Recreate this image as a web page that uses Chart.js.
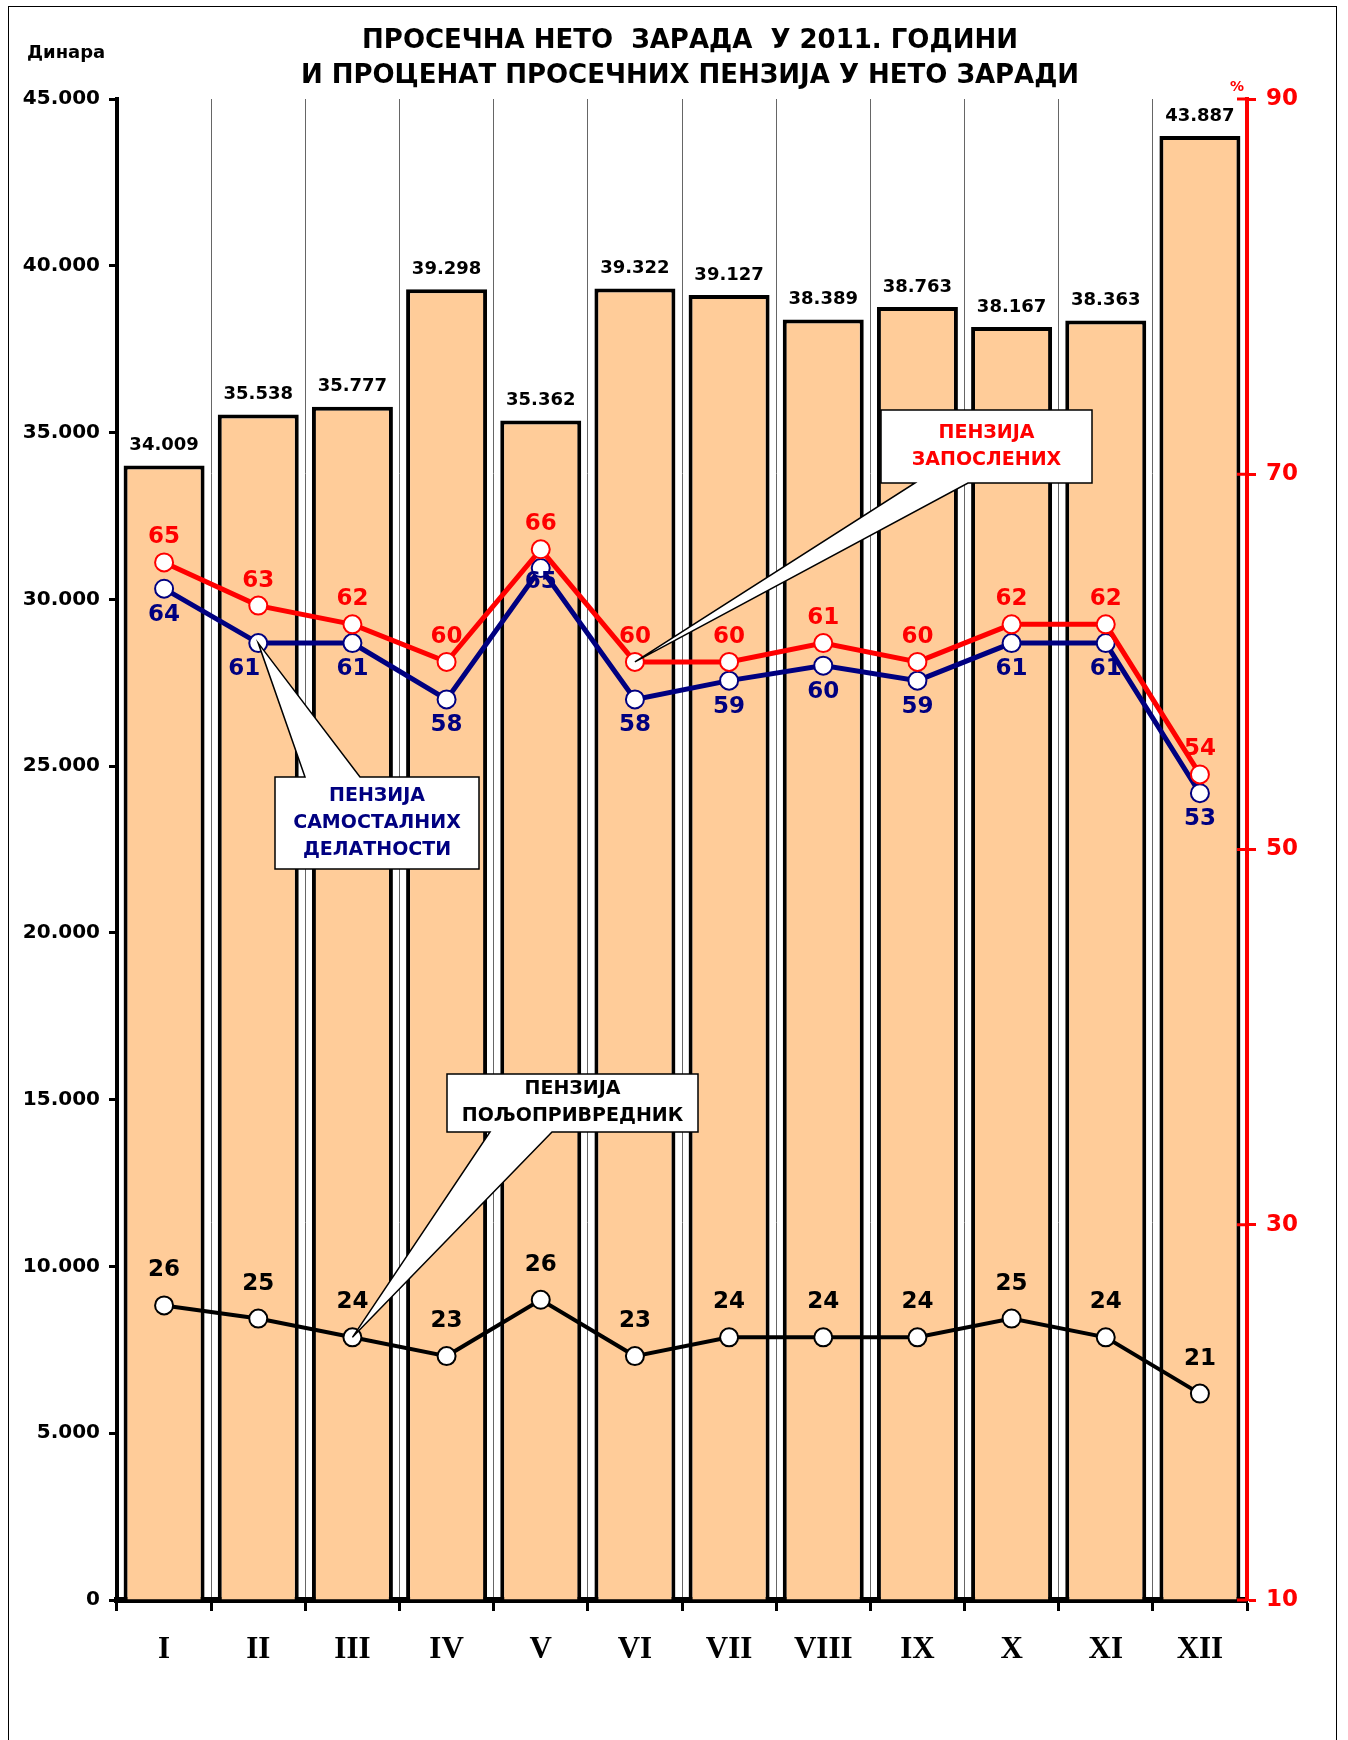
<!DOCTYPE html>
<html>
<head>
<meta charset="utf-8">
<script src="https://cdn.jsdelivr.net/npm/chart.js@4.4.1/dist/chart.umd.min.js"></script>
<style>
  body { margin: 0; background: #fff; }
  canvas { display: block; }
</style>
</head>
<body>
<canvas id="grafikZarada" width="1348" height="1740"></canvas>
<script>
var meseci = ['I', 'II', 'III', 'IV', 'V', 'VI', 'VII', 'VIII', 'IX', 'X', 'XI', 'XII']
var netoZarada = [34009, 35538, 35777, 39298, 35362, 39322, 39127, 38389, 38763, 38167, 38363, 43887]
var penzijaZaposlenih = [65.3, 63, 62, 60, 66, 60, 60, 61, 60, 62, 62, 54]
var penzijaSamostalnih = [63.9, 61, 61, 58, 65, 58, 59, 59.8, 59, 61, 61, 53]
var penzijaPoljoprivrednika = [25.7, 25, 24, 23, 26, 23, 24, 24, 24, 25, 24, 21]

var naslov = ['ПРОСЕЧНА НЕТО  ЗАРАДА  У 2011. ГОДИНИ', 'И ПРОЦЕНАТ ПРОСЕЧНИХ ПЕНЗИЈА У НЕТО ЗАРАДИ']

var font = 'DejaVu Sans'
Chart.defaults.font.family = font

function tacka(broj) {
  var s = String(Math.round(broj))
  var out = ''
  while (s.length > 3) {
    out = '.' + s.slice(-3) + out
    s = s.slice(0, -3)
  }
  return s + out
}

// oblacici sa strelicom: box je polozaj na slici, vrh strelice ide na tacku serije
var oblacici = [
  { tekst: ['ПЕНЗИЈА', 'ЗАПОСЛЕНИХ'], boja: '#ff0000', box: [881, 410, 1092, 483], baza: [915, 968], strana: 'dole', dataset: 1, indeks: 5 },
  { tekst: ['ПЕНЗИЈА', 'САМОСТАЛНИХ', 'ДЕЛАТНОСТИ'], boja: '#000080', box: [275, 777, 479, 869], baza: [305, 360], strana: 'gore', dataset: 2, indeks: 1 },
  { tekst: ['ПЕНЗИЈА', 'ПОЉОПРИВРЕДНИК'], boja: '#000000', box: [447, 1074, 698, 1132], baza: [490, 552], strana: 'dole', dataset: 3, indeks: 2 }
]

// pomeraji pojedinih oznaka da ih ne prekrije linija ili strelica
var pomeraji = { '2-1': [-14, 0], '2-4': [0, -12] }

var pluginCrtanje = {
  id: 'crtanje',
  afterDraw(chart) {
    var ctx = chart.ctx
    ctx.save()

    // okvir
    ctx.strokeStyle = '#000'
    ctx.lineWidth = 1
    ctx.strokeRect(8.5, 6.5, 1328, 1760)

    // naslov
    ctx.fillStyle = '#000'
    ctx.textAlign = 'center'
    ctx.textBaseline = 'middle'
    ctx.font = 'bold 26px ' + font
    ctx.fillText(naslov[0], 690, 41)
    ctx.fillText(naslov[1], 690, 76)

    ctx.textAlign = 'left'
    ctx.font = 'bold 18px ' + font
    ctx.fillText('Динара', 27, 53)

    ctx.fillStyle = '#ff0000'
    ctx.textAlign = 'center'
    ctx.font = 'bold 14px ' + font
    ctx.fillText('%', 1237, 87)

    // unutrasnji deo podeoka desne ose
    var y1 = chart.scales.y1
    ctx.strokeStyle = '#ff0000'
    ctx.lineWidth = 3
    y1.ticks.forEach(function (t) {
      var py = y1.getPixelForValue(t.value)
      ctx.beginPath()
      ctx.moveTo(y1.left - 10, py)
      ctx.lineTo(y1.left, py)
      ctx.stroke()
    })

    // vrednosti iznad stubova
    var stubovi = chart.getDatasetMeta(0).data
    ctx.fillStyle = '#000'
    ctx.font = 'bold 18px ' + font
    stubovi.forEach(function (b, i) {
      ctx.fillText(tacka(netoZarada[i]), b.x, b.y - 20)
    })

    // vrednosti na linijama
    var linije = [
      { ds: 1, podaci: penzijaZaposlenih, boja: '#ff0000', pomak: -25 },
      { ds: 2, podaci: penzijaSamostalnih, boja: '#000080', pomak: 26 },
      { ds: 3, podaci: penzijaPoljoprivrednika, boja: '#000000', pomak: -35 }
    ]
    ctx.font = 'bold 23px ' + font
    linije.forEach(function (l) {
      ctx.fillStyle = l.boja
      chart.getDatasetMeta(l.ds).data.forEach(function (p, i) {
        var d = pomeraji[l.ds + '-' + i] || [0, 0]
        ctx.fillText(Math.round(l.podaci[i]), p.x + d[0], p.y + l.pomak + d[1])
      })
    })

    // oblacici
    oblacici.forEach(function (o) {
      var vrh = chart.getDatasetMeta(o.dataset).data[o.indeks]
      var x0 = o.box[0], y0 = o.box[1], x1 = o.box[2], yb = o.box[3]
      ctx.beginPath()
      if (o.strana == 'dole') {
        ctx.moveTo(x0, y0)
        ctx.lineTo(x1, y0)
        ctx.lineTo(x1, yb)
        ctx.lineTo(o.baza[1], yb)
        ctx.lineTo(vrh.x, vrh.y)
        ctx.lineTo(o.baza[0], yb)
        ctx.lineTo(x0, yb)
      } else {
        ctx.moveTo(x0, y0)
        ctx.lineTo(o.baza[0], y0)
        ctx.lineTo(vrh.x, vrh.y)
        ctx.lineTo(o.baza[1], y0)
        ctx.lineTo(x1, y0)
        ctx.lineTo(x1, yb)
        ctx.lineTo(x0, yb)
      }
      ctx.closePath()
      ctx.fillStyle = '#fff'
      ctx.fill()
      ctx.strokeStyle = '#000'
      ctx.lineWidth = 1.5
      ctx.stroke()

      ctx.fillStyle = o.boja
      ctx.font = 'bold 19px ' + font
      var cx = (x0 + x1) / 2
      var cy = (y0 + yb) / 2
      var n = o.tekst.length
      o.tekst.forEach(function (red, i) {
        ctx.fillText(red, cx, cy + (i - (n - 1) / 2) * 27)
      })
    })

    ctx.restore()
  }
}

var ctx = document.getElementById('grafikZarada')

var grafik = new Chart(ctx, {
  type: 'bar',
  data: {
    labels: meseci,
    datasets: [{
      label: 'Нето зарада',
      data: netoZarada,
      backgroundColor: '#ffcc99',
      borderColor: '#000',
      borderWidth: 4,
      barPercentage: 0.86,
      categoryPercentage: 1,
      yAxisID: 'y',
      order: 10
    }, {
      type: 'line',
      label: 'Пензија запослених',
      data: penzijaZaposlenih,
      borderColor: '#ff0000',
      borderWidth: 5,
      pointBackgroundColor: '#fff',
      pointBorderColor: '#ff0000',
      pointBorderWidth: 2,
      pointRadius: 9,
      yAxisID: 'y1',
      order: 1
    }, {
      type: 'line',
      label: 'Пензија самосталних делатности',
      data: penzijaSamostalnih,
      borderColor: '#000080',
      borderWidth: 5,
      pointBackgroundColor: '#fff',
      pointBorderColor: '#000080',
      pointBorderWidth: 2,
      pointRadius: 9,
      yAxisID: 'y1',
      order: 2
    }, {
      type: 'line',
      label: 'Пензија пољопривредник',
      data: penzijaPoljoprivrednika,
      borderColor: '#000',
      borderWidth: 4,
      pointBackgroundColor: '#fff',
      pointBorderColor: '#000',
      pointBorderWidth: 2,
      pointRadius: 9,
      yAxisID: 'y1',
      order: 3
    }]
  },
  options: {
    responsive: false,
    animation: false,
    devicePixelRatio: 1,
    layout: { padding: { top: 99, left: 0, right: 0, bottom: 0 } },
    plugins: {
      legend: { display: false },
      tooltip: { enabled: false }
    },
    scales: {
      x: {
        offset: true,
        grid: { offset: true, color: '#666', lineWidth: 1, tickColor: '#000', tickWidth: 3, tickLength: 11 },
        border: { color: '#000', width: 6 },
        ticks: { color: '#000', padding: 20, font: { family: 'Liberation Serif', weight: 'bold', size: 31 } },
        afterFit: function (s) { s.height = 140 }
      },
      y: {
        position: 'left',
        min: 0,
        max: 45000,
        ticks: { stepSize: 5000, color: '#000', padding: 9, font: { weight: 'bold', size: 20 }, callback: function (v) { return tacka(v) } },
        grid: { drawOnChartArea: false, tickColor: '#000', tickWidth: 3, tickLength: 8 },
        border: { color: '#000', width: 4 },
        afterFit: function (s) { s.width = 117 }
      },
      y1: {
        position: 'right',
        min: 10,
        max: 90,
        ticks: { stepSize: 20, color: '#ff0000', padding: 10, font: { weight: 'bold', size: 23 } },
        grid: { drawOnChartArea: false, tickColor: '#ff0000', tickWidth: 3, tickLength: 9 },
        border: { color: '#ff0000', width: 4 },
        afterFit: function (s) { s.width = 101 }
      }
    }
  },
  plugins: [pluginCrtanje]
})
</script>
</body>
</html>
